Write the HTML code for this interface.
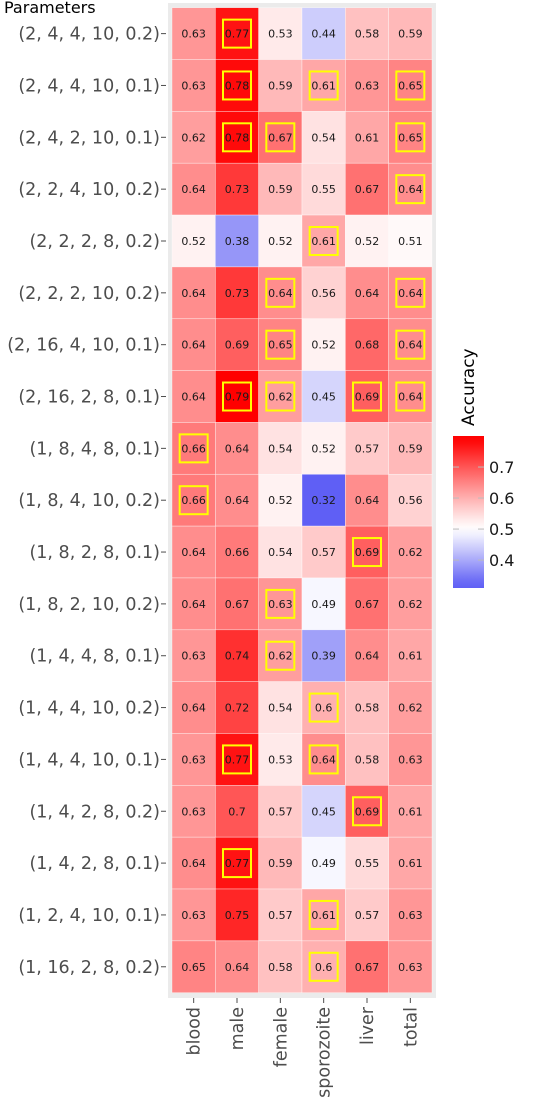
<!DOCTYPE html>
<html><head><meta charset="utf-8"><style>
body{margin:0;background:#fff;}
svg{display:block;font-family:"DejaVu Sans","Liberation Sans",sans-serif;}
</style></head><body>
<svg id="chart" width="539" height="1101" viewBox="0 0 539 1101" xmlns="http://www.w3.org/2000/svg"></svg>
<script>
const rowLabels=["(2, 4, 4, 10, 0.2)","(2, 4, 4, 10, 0.1)","(2, 4, 2, 10, 0.1)","(2, 2, 4, 10, 0.2)","(2, 2, 2, 8, 0.2)","(2, 2, 2, 10, 0.2)","(2, 16, 4, 10, 0.1)","(2, 16, 2, 8, 0.1)","(1, 8, 4, 8, 0.1)","(1, 8, 4, 10, 0.2)","(1, 8, 2, 8, 0.1)","(1, 8, 2, 10, 0.2)","(1, 4, 4, 8, 0.1)","(1, 4, 4, 10, 0.2)","(1, 4, 4, 10, 0.1)","(1, 4, 2, 8, 0.2)","(1, 4, 2, 8, 0.1)","(1, 2, 4, 10, 0.1)","(1, 16, 2, 8, 0.2)"];
const colLabels=["blood","male","female","sporozoite","liver","total"];
const values=[
[0.63,0.77,0.53,0.44,0.58,0.59],
[0.63,0.78,0.59,0.61,0.63,0.65],
[0.62,0.78,0.67,0.54,0.61,0.65],
[0.64,0.73,0.59,0.55,0.67,0.64],
[0.52,0.38,0.52,0.61,0.52,0.51],
[0.64,0.73,0.64,0.56,0.64,0.64],
[0.64,0.69,0.65,0.52,0.68,0.64],
[0.64,0.79,0.62,0.45,0.69,0.64],
[0.66,0.64,0.54,0.52,0.57,0.59],
[0.66,0.64,0.52,0.32,0.64,0.56],
[0.64,0.66,0.54,0.57,0.69,0.62],
[0.64,0.67,0.63,0.49,0.67,0.62],
[0.63,0.74,0.62,0.39,0.64,0.61],
[0.64,0.72,0.54,0.6,0.58,0.62],
[0.63,0.77,0.53,0.64,0.58,0.63],
[0.63,0.7,0.57,0.45,0.69,0.61],
[0.64,0.77,0.59,0.49,0.55,0.61],
[0.63,0.75,0.57,0.61,0.57,0.63],
[0.65,0.64,0.58,0.6,0.67,0.63]];
const highlighted=[
[0,1,0,0,0,0],[0,1,0,1,0,1],[0,1,1,0,0,1],[0,0,0,0,0,1],[0,0,0,1,0,0],
[0,0,1,0,0,1],[0,0,1,0,0,1],[0,1,1,0,1,1],[1,0,0,0,0,0],[1,0,0,0,0,0],
[0,0,0,0,1,0],[0,0,1,0,0,0],[0,0,1,0,0,0],[0,0,0,1,0,0],[0,1,0,1,0,0],
[0,0,0,0,1,0],[0,1,0,0,0,0],[0,0,0,1,0,0],[0,0,0,1,0,0]];
const legendTicks=[0.4,0.5,0.6,0.7];

const NS="http://www.w3.org/2000/svg";
const svg=document.getElementById('chart');
function mk(t,a,p){const e=document.createElementNS(NS,t);for(const k in a)e.setAttribute(k,a[k]);(p||svg).appendChild(e);return e;}
const X0=172,X1=432,Y0=7.7,Y1=992.7;
const cw=(X1-X0)/colLabels.length, ch=(Y1-Y0)/rowLabels.length;
const xPos=i=>X0+i*cw, yPos=j=>Y0+j*ch;
const LO=0.32,MID=0.5,HI=0.79;
function color(v){
  if(v>=MID){const t=Math.pow(Math.min(1,(v-MID)/(HI-MID)),1.1);const c=Math.round(255*(1-t));return `rgb(255,${c},${c})`;}
  const t=Math.pow(Math.min(1,(MID-v)/(MID-LO)),1.05);
  return `rgb(${Math.round(255-t*160)},${Math.round(255-t*160)},${Math.round(255-t*10)})`;
}
const bg=mk('rect',{x:168,y:3,width:268,height:995,fill:'#ebebeb'});


const title=mk('text',{x:4,y:13,'font-size':16,fill:'#000'});title.textContent='Parameters';


values.forEach((row,j)=>{
  row.forEach((v,i)=>{
    const r=mk('rect',{x:xPos(i),y:yPos(j),width:cw,height:ch,fill:color(v),stroke:'#fff','stroke-width':0.6,'stroke-opacity':0.6});
    
    
    const cx=xPos(i)+cw/2, cy=yPos(j)+ch/2;
    if(highlighted[j][i]){
      const b=mk('rect',{x:cx-14,y:cy-14,width:28,height:28,fill:'none',stroke:'#ffff00','stroke-width':2});
      
      
    }
    const t=mk('text',{x:cx,y:cy+4,'font-size':11,'text-anchor':'middle',fill:'#1a1a1a'});
    t.textContent=String(v);
    
    
  });
  const cy=yPos(j)+ch/2;
  const l=mk('text',{x:160,y:cy+6,'font-size':17.5,'text-anchor':'end',fill:'#4d4d4d'});
  l.textContent=rowLabels[j];
  
  
  mk('line',{x1:161,x2:166,y1:cy,y2:cy,stroke:'#4d4d4d','stroke-width':1});
});
colLabels.forEach((c,i)=>{
  const cx=xPos(i)+cw/2;
  mk('line',{x1:cx,x2:cx,y1:998,y2:1003,stroke:'#4d4d4d','stroke-width':1});
  const t=mk('text',{x:0,y:0,'font-size':17.5,'text-anchor':'end',fill:'#4d4d4d',transform:`translate(${cx+6},1007) rotate(-90)`});
  t.textContent=c;
  
  
});
const defs=mk('defs',{});
const g=mk('linearGradient',{id:'lg',x1:0,y1:1,x2:0,y2:0},defs);
const LB=588,LT=436,lv=v=>LB-(v-0.31)/(0.80-0.31)*(LB-LT);
for(let k=0;k<=20;k++){const v=0.31+k*(0.49/20);mk('stop',{offset:k/20,'stop-color':color(v)},g);}
const lr=mk('rect',{x:453,y:LT,width:31,height:LB-LT,fill:'url(#lg)'});


legendTicks.forEach(v=>{
  const y=lv(v);
  mk('line',{x1:453,x2:459,y1:y,y2:y,stroke:'#bbb'});
  mk('line',{x1:478,x2:484,y1:y,y2:y,stroke:'#bbb'});
  const t=mk('text',{x:489,y:y+6,'font-size':16,fill:'#1a1a1a'});t.textContent=v.toFixed(1);
  
  
});
const lt=mk('text',{x:0,y:0,'font-size':17,fill:'#000',transform:'translate(474,426) rotate(-90)'});
lt.textContent='Accuracy';


</script>
</body></html>
